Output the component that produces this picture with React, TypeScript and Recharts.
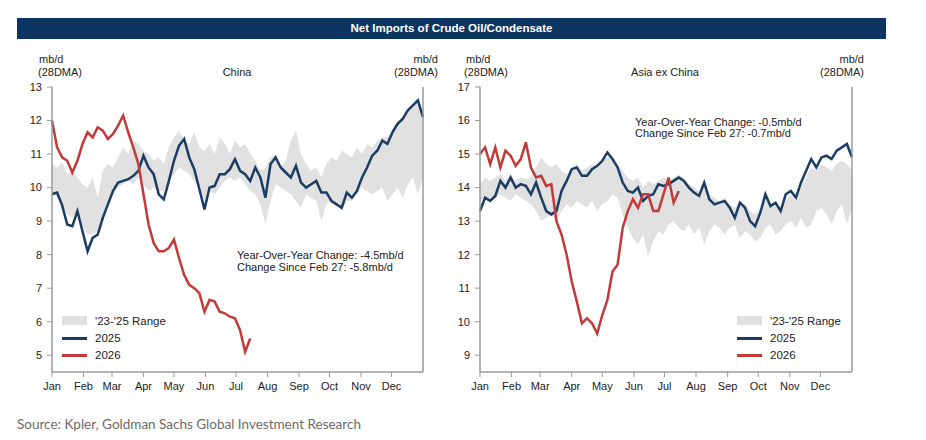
import React from 'react';
import { ComposedChart, Area, Line, XAxis, YAxis } from 'recharts';

// day-of-year sample points, every 5 days
const days = Array.from({ length: 74 }, (_, i) => i * 5);

const monthStarts = [0, 31, 59, 90, 120, 151, 181, 212, 243, 273, 304, 334];
const monthNames = ['Jan', 'Feb', 'Mar', 'Apr', 'May', 'Jun', 'Jul', 'Aug', 'Sep', 'Oct', 'Nov', 'Dec'];

// China, mb/d (28DMA)
const chinaHigh = [
  10.7, 10.6, 10.75, 10.4, 10.5, 10.3, 10.1, 10.0, 10.3, 9.7,
  10.5, 10.7, 10.6, 10.9, 11.2, 11.0, 11.4, 11.3, 11.1, 11.0,
  10.8, 10.9, 10.7, 11.2, 11.5, 11.7, 11.4, 11.3, 11.65, 11.2,
  11.1, 11.3, 11.0, 11.5, 11.3, 11.0, 11.4, 11.2, 11.3, 11.0,
  10.8, 10.5, 10.6, 10.9, 11.0, 10.6, 10.8, 11.4, 11.7, 11.0,
  10.7, 10.5, 10.6, 10.3, 10.7, 10.9, 10.8, 11.1, 11.0, 10.9,
  11.2, 11.0, 11.3, 11.2, 11.4, 11.5, 11.5, 11.75, 11.95, 12.1,
  12.35, 12.5, 12.65, 12.2,
];
const chinaLow = [
  9.85, 9.7, 9.5, 9.2, 9.1, 9.3, 8.9, 8.6, 8.6, 8.7,
  9.2, 9.5, 9.8, 10.0, 10.1, 10.2, 10.1, 10.3, 10.1, 9.9,
  10.0, 9.9, 9.9, 10.2, 10.4, 10.6, 10.5, 10.4, 10.2, 10.0,
  9.6, 9.9, 9.8, 10.0, 10.2, 10.3, 10.2, 10.3, 10.1, 9.9,
  9.8, 9.5, 8.9, 9.6, 10.1, 10.0, 9.9, 9.8, 9.6, 9.4,
  9.8, 9.7, 9.6, 9.0, 9.5, 9.6, 9.5, 9.3, 9.6, 9.6,
  9.8, 10.0, 9.9, 9.8, 9.9, 10.0, 9.6, 9.8, 10.0, 9.7,
  10.1, 10.3, 9.8, 10.3,
];
const china2025 = [
  9.8, 9.85, 9.47, 8.9, 8.85, 9.3, 8.7, 8.1, 8.5, 8.6,
  9.1, 9.5, 9.9, 10.15, 10.2, 10.25, 10.35, 10.5, 10.95, 10.6,
  10.4, 9.8, 9.65, 10.2, 10.8, 11.25, 11.45, 10.9, 10.55, 9.95,
  9.35, 10.0, 10.05, 10.4, 10.4, 10.55, 10.85, 10.5, 10.4, 10.2,
  10.6, 10.3, 9.7, 10.7, 10.9, 10.6, 10.45, 10.3, 10.65, 10.15,
  10.0, 10.1, 10.2, 9.85, 9.85, 9.6, 9.5, 9.4, 9.85, 9.7,
  9.9, 10.3, 10.6, 10.95, 11.1, 11.4, 11.3, 11.65, 11.9, 12.05,
  12.3, 12.45, 12.6, 12.1,
];
const china2026 = [
  12.0, 11.2, 10.9, 10.8, 10.45, 10.8, 11.3, 11.65, 11.5, 11.8,
  11.7, 11.45, 11.6, 11.85, 12.15, 11.65, 11.2, 10.7, 9.8, 8.9,
  8.35, 8.1, 8.1, 8.2, 8.45, 7.9, 7.4, 7.1, 7.0, 6.85,
  6.3, 6.65, 6.6, 6.3, 6.25, 6.15, 6.1, 5.75, 5.1, 5.5,
];

// Asia ex China, mb/d (28DMA)
const asiaHigh = [
  14.1, 14.3, 14.2, 14.3, 14.4, 14.2, 14.4, 14.2, 14.3, 14.25,
  14.3, 14.6, 14.9, 14.7, 14.6, 14.7, 14.5, 14.4, 14.6, 14.7,
  14.5, 14.6, 14.7, 14.6, 14.8, 14.9, 14.95, 14.7, 14.5, 14.3,
  14.2, 14.3, 14.0, 14.2, 14.1, 14.2, 14.3, 14.2, 14.3, 14.4,
  14.3, 14.1, 14.0, 13.9, 14.2, 13.8, 13.7, 13.6, 13.7, 13.5,
  13.4, 13.6, 13.5, 13.3, 13.2, 13.4, 13.7, 13.5, 13.5, 13.4,
  13.6, 13.8, 13.6, 14.0, 14.3, 14.6, 14.5, 14.7, 14.6, 14.5,
  14.7, 14.8, 14.7, 14.5,
];
const asiaLow = [
  13.6, 13.7, 13.6, 13.7, 13.8, 13.7, 13.6, 13.8, 13.7, 13.6,
  13.5, 13.3, 13.0, 13.1, 13.2, 13.0, 13.3, 13.5, 13.4, 13.6,
  13.5, 13.4, 13.6, 13.3, 13.5, 13.6, 13.8, 13.7, 13.2, 12.8,
  12.5, 12.3, 12.6, 11.95, 12.4, 12.7, 12.6, 12.9, 13.0, 12.8,
  12.7, 12.9, 12.6, 12.8, 12.3, 12.7, 12.9, 12.8, 12.6, 12.8,
  12.9, 12.5, 12.7, 12.6, 12.4, 12.5, 12.8, 12.9, 12.6, 12.7,
  12.9, 13.0, 12.8, 13.1, 12.8, 12.9, 13.3, 13.4, 13.2, 12.9,
  13.3, 13.5, 12.9, 13.4,
];
const asia2025 = [
  13.3, 13.7, 13.6, 13.75, 14.2, 14.0, 14.3, 14.0, 14.1, 14.05,
  13.8, 14.15, 13.7, 13.3, 13.2, 13.3, 13.9, 14.2, 14.55, 14.6,
  14.35, 14.35, 14.55, 14.65, 14.8, 15.05, 14.85, 14.6, 14.15, 13.9,
  13.85, 14.0, 13.6, 13.75, 13.8, 14.1, 14.05, 14.1, 14.2, 14.3,
  14.2, 14.0, 13.85, 13.75, 14.15, 13.65, 13.5, 13.55, 13.6, 13.4,
  13.1, 13.55, 13.4, 13.0, 12.85, 13.25, 13.8, 13.45, 13.55, 13.3,
  13.8, 13.9, 13.7, 14.15, 14.5, 14.85, 14.6, 14.9, 14.95, 14.85,
  15.1, 15.2, 15.3, 14.9,
];
const asia2026 = [
  15.0, 15.2, 14.7, 15.2, 14.6, 15.1, 14.95, 14.65, 14.85, 15.35,
  14.6, 14.3, 14.35, 14.05, 14.1, 13.0, 12.6, 12.0, 11.2, 10.6,
  9.95, 10.1, 9.95, 9.65, 10.2, 10.65, 11.5, 11.7, 12.8, 13.3,
  13.65, 13.4, 13.8, 13.8, 13.3, 13.3, 13.8, 14.3, 13.55, 13.9,
];

const chinaTicks = [5, 6, 7, 8, 9, 10, 11, 12, 13];
const asiaTicks = [9, 10, 11, 12, 13, 14, 15, 16, 17];

const FONT = '"Liberation Sans", Arial, sans-serif';
const NAVY = '#1b3d63';
const RED = '#c23a3a';
const BAND = '#e1e1e1';
const AXIS = '#9a9a9a';
const TEXT = '#222';

const buildRows = (lo: number[], hi: number[], a: number[], b: number[]) =>
  days.map((day, i) => ({
    day,
    lo: lo[i],
    hi: hi[i],
    y2025: a[i],
    y2026: i < b.length ? b[i] : null,
  }));

const chinaRows = buildRows(chinaLow, chinaHigh, china2025, china2026);
const asiaRows = buildRows(asiaLow, asiaHigh, asia2025, asia2026);

const abs = (left: number, top: number, extra: React.CSSProperties = {}): React.CSSProperties => ({
  position: 'absolute',
  left,
  top,
  fontFamily: FONT,
  fontSize: 11,
  color: TEXT,
  lineHeight: '12px',
  whiteSpace: 'nowrap',
  ...extra,
});

const Legend = ({ x, y }: { x: number; y: number }) => {
  const rows = [
    { label: "'23-'25 Range", kind: 'band' },
    { label: '2025', kind: NAVY },
    { label: '2026', kind: RED },
  ];
  return (
    <>
      {rows.map((r, i) => (
        <React.Fragment key={r.label}>
          {r.kind === 'band' ? (
            <div style={{ position: 'absolute', left: x, top: y + i * 17 - 5, width: 25, height: 9, background: BAND }} />
          ) : (
            <div style={{ position: 'absolute', left: x, top: y + i * 17 - 1, width: 25, height: 3, background: r.kind }} />
          )}
          <div style={abs(x + 33, y + i * 17 - 7, { fontSize: 11.5, lineHeight: '14px' })}>{r.label}</div>
        </React.Fragment>
      ))}
    </>
  );
};

interface PanelProps {
  rows: ReturnType<typeof buildRows>;
  domain: [number, number];
  ticks: number[];
  left: number;
  width: number;
  margin: { top: number; right: number; bottom: number; left: number };
}

const Panel = ({ rows, domain, ticks, left, width, margin }: PanelProps) => (
  <div style={{ position: 'absolute', left, top: 0 }}>
    <ComposedChart width={width} height={410} data={rows} margin={margin}>
      <XAxis
        dataKey="day"
        type="number"
        domain={[0, 365]}
        ticks={monthStarts}
        tickFormatter={(v: number) => monthNames[monthStarts.indexOf(v)]}
        interval={0}
        height={30}
        tickSize={5}
        tickMargin={5}
        axisLine={{ stroke: AXIS, strokeWidth: 1.5 }}
        tickLine={{ stroke: AXIS }}
        tick={{ fill: TEXT, fontSize: 11, fontFamily: FONT }}
      />
      <YAxis
        yAxisId="left"
        orientation="left"
        type="number"
        domain={domain}
        ticks={ticks}
        interval={0}
        width={30}
        tickSize={5}
        tickMargin={5}
        axisLine={{ stroke: AXIS, strokeWidth: 1.5 }}
        tickLine={{ stroke: AXIS }}
        tick={{ fill: TEXT, fontSize: 11, fontFamily: FONT }}
      />
      <YAxis
        yAxisId="right"
        orientation="right"
        type="number"
        domain={domain}
        ticks={ticks}
        interval={0}
        width={30}
        tickSize={5}
        tickMargin={5}
        axisLine={{ stroke: AXIS, strokeWidth: 1.5 }}
        tickLine={{ stroke: AXIS }}
        tick={{ fill: TEXT, fontSize: 11, fontFamily: FONT }}
      />
      <Area
        yAxisId="left"
        type="linear"
        dataKey={(d: any) => [d.lo, d.hi]}
        fill={BAND}
        fillOpacity={1}
        stroke="none"
        isAnimationActive={false}
      />
      <Line
        yAxisId="left"
        type="linear"
        dataKey="y2025"
        stroke={NAVY}
        strokeWidth={2.5}
        dot={false}
        isAnimationActive={false}
      />
      <Line
        yAxisId="left"
        type="linear"
        dataKey="y2026"
        stroke={RED}
        strokeWidth={2.5}
        dot={false}
        connectNulls={false}
        isAnimationActive={false}
      />
    </ComposedChart>
  </div>
);

export default function App() {
  return (
    <div style={{ position: 'absolute', left: 0, top: 0, width: 926, height: 440, background: '#fff', overflow: 'hidden' }}>
      <div
        style={{
          position: 'absolute',
          left: 17,
          top: 18,
          width: 869,
          height: 21,
          background: '#0c3561',
          color: '#fff',
          fontFamily: FONT,
          fontWeight: 'bold',
          fontSize: 11.5,
          lineHeight: '21px',
          textAlign: 'center',
        }}
      >
        Net Imports of Crude Oil/Condensate
      </div>

      <Panel
        rows={chinaRows}
        domain={[4.5, 13]}
        ticks={chinaTicks}
        left={0}
        width={460}
        margin={{ top: 87, right: 7, bottom: 8, left: 22 }}
      />
      <Panel
        rows={asiaRows}
        domain={[8.5, 17]}
        ticks={asiaTicks}
        left={440}
        width={446}
        margin={{ top: 87, right: 4, bottom: 8, left: 10 }}
      />

      {/* China panel labels */}
      <div style={abs(39, 53)}>mb/d</div>
      <div style={abs(38, 66)}>(28DMA)</div>
      <div style={abs(237, 66, { transform: 'translateX(-50%)' })}>China</div>
      <div style={abs(392, 53, { width: 46, textAlign: 'right' })}>mb/d</div>
      <div style={abs(392, 66, { width: 46, textAlign: 'right' })}>(28DMA)</div>
      <div style={abs(237, 249)}>Year-Over-Year Change: -4.5mb/d</div>
      <div style={abs(237, 261)}>Change Since Feb 27: -5.8mb/d</div>
      <Legend x={62} y={321} />

      {/* Asia ex China panel labels */}
      <div style={abs(466, 53)}>mb/d</div>
      <div style={abs(464, 66)}>(28DMA)</div>
      <div style={abs(665, 66, { transform: 'translateX(-50%)' })}>Asia ex China</div>
      <div style={abs(818, 53, { width: 46, textAlign: 'right' })}>mb/d</div>
      <div style={abs(818, 66, { width: 46, textAlign: 'right' })}>(28DMA)</div>
      <div style={abs(635, 116)}>Year-Over-Year Change: -0.5mb/d</div>
      <div style={abs(635, 127)}>Change Since Feb 27: -0.7mb/d</div>
      <Legend x={737} y={321} />

      <div
        style={{
          position: 'absolute',
          left: 17,
          top: 416,
          fontFamily: 'Lato, "Open Sans", sans-serif',
          fontSize: 13.5,
          color: '#6b6b6b',
          whiteSpace: 'nowrap',
        }}
      >
        Source: Kpler, Goldman Sachs Global Investment Research
      </div>
    </div>
  );
}
